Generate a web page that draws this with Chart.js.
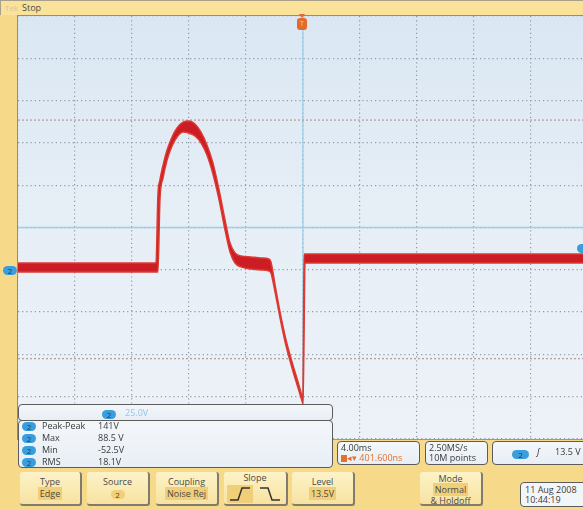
<!DOCTYPE html>
<html>
<head>
<meta charset="utf-8">
<script src="https://cdn.jsdelivr.net/npm/chart.js@4.4.1/dist/chart.umd.min.js"></script>
<style>
html, body { margin: 0; padding: 0; }
body { width: 583px; height: 510px; overflow: hidden; position: relative; background: #f7d98a; font-family: "Open Sans", sans-serif; color: #3a3a3a; font-size: 9px; }
.a { position: absolute; box-sizing: border-box; }
#topbar { left: 0; top: 0; width: 583px; height: 15px; background: #fbe29a; border-top: 1px solid #a8a08a; border-left: 1px solid #a8a08a; }
#plot { left: 17px; top: 15px; width: 572px; height: 425px; border-left: 1px solid #8e8e88; border-top: 1px solid #8e8e88; border-bottom: 1px solid #9a9a94;
  background: linear-gradient(#dae7f3, #e6eef6 45%, #edf2f8); }
.box { border: 1.5px solid #5c5c5c; border-radius: 4px; background: linear-gradient(#f4f7fa, #e7eef5); }
.pill { display: inline-block; width: 14px; height: 9px; border-radius: 5px; background: #3b9edc; color: #1c3a66; font-size: 8px; line-height: 9px; text-align: center; vertical-align: middle; }
.row { position: absolute; left: 3px; height: 12px; line-height: 12px; white-space: nowrap; }
.row .l { position: absolute; left: 20px; }
.row .v { position: absolute; left: 76px; }
.btn { top: 472px; height: 34px; background: linear-gradient(#fdf3c8, #f8e2a0); border-right: 2px solid #7f7b70; border-bottom: 2px solid #7f7b70; border-radius: 3px; text-align: center; line-height: 12px; padding-top: 4px; color: #4a4a4a; }
.hl { background: #f1cf78; padding: 0 2px; }
</style>
</head>
<body>
<div class="a" id="topbar">
  <span class="a" style="left:4px;top:1px;color:#cfc6a6;font-size:8px;">Tek</span>
  <span class="a" style="left:21px;top:0px;color:#4a4a4a;font-size:9px;">Stop</span>
</div>

<div class="a" id="plot">
  <canvas id="scope" width="570" height="423"></canvas>
</div>

<!-- trigger position marker -->
<div class="a" style="left:299px;top:14px;width:0;height:0;border-left:3px solid transparent;border-right:3px solid transparent;border-top:4px solid #e26a2c;"></div>
<div class="a" style="left:297px;top:18px;width:10px;height:12px;background:#e26a2c;border-radius:3px;color:#f6c7a8;font-size:7px;line-height:12px;text-align:center;">T</div>

<!-- channel 2 ground marker and trigger level marker -->
<div class="a" style="left:3px;top:263px;"><span class="pill">2</span></div>
<div class="a" style="left:577px;top:244px;width:12px;height:9px;border-radius:5px;background:#3b9edc;"></div>

<!-- measurement panel -->
<div class="a box" style="left:18px;top:404px;width:315px;height:17px;">
  <span class="a" style="left:83px;top:2px;"><span class="pill">2</span></span>
  <span class="a" style="left:106px;top:1px;color:#92c7ea;">25.0V</span>
</div>
<div class="a box" style="left:18px;top:420px;width:315px;height:48px;">
  <div class="row" style="top:-1px;"><span class="pill">2</span><span class="l">Peak-Peak</span><span class="v">141V</span></div>
  <div class="row" style="top:11px;"><span class="pill">2</span><span class="l">Max</span><span class="v">88.5 V</span></div>
  <div class="row" style="top:23px;"><span class="pill">2</span><span class="l">Min</span><span class="v">-52.5V</span></div>
  <div class="row" style="top:35px;"><span class="pill">2</span><span class="l">RMS</span><span class="v">18.1V</span></div>
</div>

<!-- status boxes -->
<div class="a box" style="left:337px;top:441px;width:83px;height:24px;line-height:10px;padding:1px 3px;">
  4.00ms<br>
  <span style="display:inline-block;width:6px;height:7px;background:#e4702c;vertical-align:middle;"></span><span style="color:#e4702c;">◂▾ 401.600ns</span>
</div>
<div class="a box" style="left:425px;top:441px;width:63px;height:24px;line-height:10px;padding:1px 3px;">
  2.50MS/s<br>10M points
</div>
<div class="a box" style="left:492px;top:441px;width:100px;height:24px;">
  <span class="a" style="left:19px;top:5px;"><span class="pill" style="width:17px;">2</span></span>
  <span class="a" style="left:44px;top:3px;font-style:italic;">ʃ</span>
  <span class="a" style="left:62px;top:3px;">13.5 V</span>
</div>

<!-- soft buttons -->
<div class="a btn" style="left:20px;width:62px;">Type<br><span class="hl">Edge</span></div>
<div class="a btn" style="left:87px;width:63px;">Source<br><span class="pill" style="background:#f1cf78;color:#4a4a4a;">2</span></div>
<div class="a btn" style="left:156px;width:63px;">Coupling<br><span class="hl">Noise Rej</span></div>
<div class="a btn" style="left:224px;width:64px;padding-top:0;">Slope
  <svg class="a" style="left:3px;top:13px;" width="26" height="18"><rect x="0" y="0" width="26" height="18" fill="#f1cf78"/><polyline points="3,15 11,15 15,3 23,3" fill="none" stroke="#333" stroke-width="1.5"/></svg>
  <svg class="a" style="left:33px;top:13px;" width="26" height="18"><polyline points="3,3 11,3 15,15 23,15" fill="none" stroke="#333" stroke-width="1.5"/></svg>
</div>
<div class="a btn" style="left:292px;width:63px;">Level<br><span class="hl">13.5V</span></div>
<div class="a btn" style="left:420px;width:63px;padding-top:1px;line-height:11px;">Mode<br><span class="hl">Normal</span><br>&amp; Holdoff</div>

<div class="a box" style="left:520px;top:482px;width:68px;height:25px;line-height:10px;padding:2px 4px;background:#f3f6f9;">
  11 Aug 2008<br>10:44:19
</div>

<script>
// time in ms (4 ms/div), volts (25 V/div)
const timeMs = [-20, -10.32, -10.18, -10.04, -9.82, -9.54, -9.19, -8.84, -8.42, -8.0, -7.58, -7.16, -6.74, -6.32, -5.89, -5.47, -5.12, -4.77, -4.35, -3.65, -2.95, -2.39, -2.25, -1.96, -1.61, -1.19, -0.77, -0.35, -0.07, 0.0, 0.07, 0.14, 20];
const upperV = [4.0, 4.0, 44.2, 53.1, 61.9, 70.8, 78.5, 83.8, 87.3, 87.9, 86.2, 81.4, 73.8, 63.2, 47.2, 29.4, 15.8, 10.0, 8.2, 7.6, 7.0, 6.4, 4.6, -9.0, -25.0, -41.5, -54.5, -66.3, -74.6, -76.4, 9.3, 9.3, 9.3];
const lowerV = [-1.3, -1.3, -1.3, 41.3, 54.3, 64.9, 73.2, 78.5, 81.4, 80.8, 79.1, 75.0, 67.8, 56.6, 41.3, 23.5, 10.5, 4.0, 1.7, 0.5, -0.1, -0.7, -1.9, -13.2, -28.5, -45.0, -58.0, -69.8, -77.5, -79.3, -40.0, 4.0, 4.0];
const maxV = 88.5;
const minV = -52.5;
const timeSpan = [-20, 20];
const voltSpan = [-100, 150];
const centerV = 25;

function pts(xs, ys) {
  return xs.map((x, i) => ({ x: x, y: ys[i] }))
}

const flat = (y, color, dash) => ({
  data: [{ x: timeSpan[0], y: y }, { x: timeSpan[1], y: y }],
  borderColor: color, borderWidth: 1.3, borderDash: dash, pointRadius: 0, fill: false
});

const scope = new Chart(document.getElementById('scope'), {
  type: 'line',
  data: {
    datasets: [
      { data: pts(timeMs, upperV), borderColor: '#dc3b31', borderWidth: 1.5, pointRadius: 0, fill: false, cubicInterpolationMode: 'monotone' },
      { data: pts(timeMs, lowerV), borderColor: '#dc3b31', borderWidth: 1.5, pointRadius: 0, fill: '-1', backgroundColor: '#cc1c25', cubicInterpolationMode: 'monotone' },
      flat(maxV, '#bf9c9c', [2, 2]),
      flat(minV, '#bf9c9c', [2, 2]),
      flat(centerV, '#9ccfec', []),
      { data: [{ x: 0, y: voltSpan[0] }, { x: 0, y: voltSpan[1] }], borderColor: '#9ccfec', borderWidth: 1.3, pointRadius: 0, fill: false }
    ]
  },
  options: {
    responsive: false,
    animation: false,
    events: [],
    layout: { padding: 0 },
    plugins: { legend: { display: false }, tooltip: { enabled: false } },
    scales: {
      x: {
        type: 'linear', min: timeSpan[0], max: timeSpan[1],
        ticks: { display: false, stepSize: 4 },
        grid: { color: '#8f9ba7', lineWidth: 1.2, drawTicks: false },
        border: { display: false, dash: [1.2, 3] }
      },
      y: {
        type: 'linear', min: voltSpan[0], max: voltSpan[1],
        ticks: { display: false, stepSize: 25 },
        grid: { color: '#8f9ba7', lineWidth: 1.2, drawTicks: false },
        border: { display: false, dash: [1.2, 3] }
      }
    }
  }
});
</script>
</body>
</html>
